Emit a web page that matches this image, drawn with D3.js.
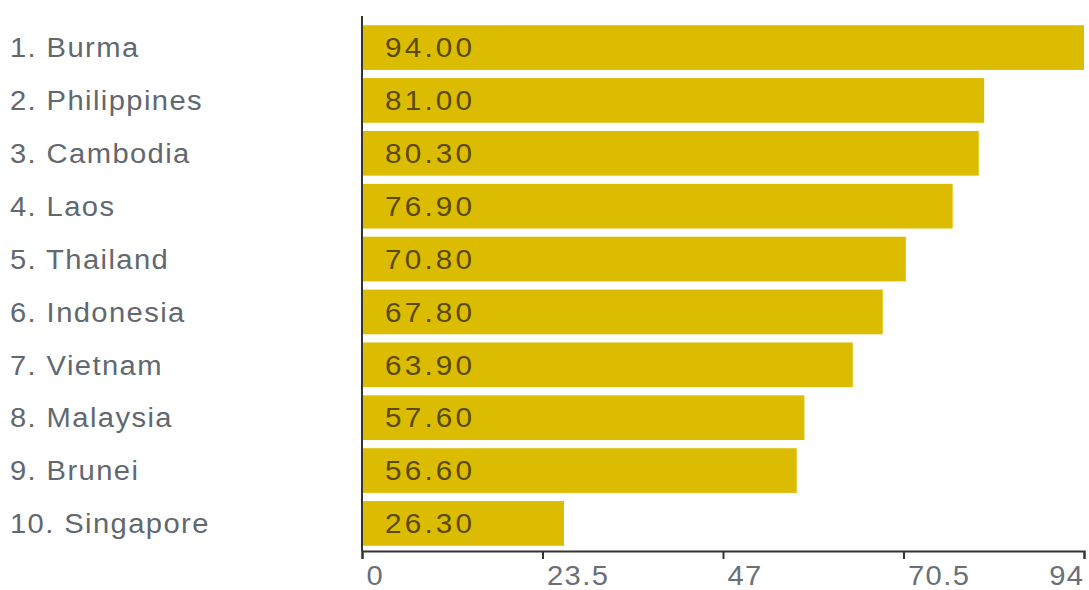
<!DOCTYPE html>
<html>
<head>
<meta charset="utf-8">
<script src="https://cdn.jsdelivr.net/npm/d3@7"></script>
<style>
  html, body { margin: 0; padding: 0; background: #fff; }
  svg { display: block; }
</style>
</head>
<body>
<svg id="chart" width="1089" height="590"></svg>
<script>
const categories = ["1. Burma", "2. Philippines", "3. Cambodia", "4. Laos", "5. Thailand",
                    "6. Indonesia", "7. Vietnam", "8. Malaysia", "9. Brunei", "10. Singapore"];
const values = [94.00, 81.00, 80.30, 76.90, 70.80, 67.80, 63.90, 57.60, 56.60, 26.30];
const tickValues = [0, 23.5, 47, 70.5, 94];
const tickLabels = ["0", "23.5", "47", "70.5", "94"];

const svg = d3.select("#chart");
const font = "'Liberation Sans', Arial, sans-serif";
const stretch = 1.08;   // slightly wide lettering

const x = d3.scaleLinear().domain([0, 94]).range([362, 1084]);
const y = d3.scaleBand().domain(categories)
  .range([21, 550]).paddingInner(0.155).paddingOuter(0.08);

// Bars
svg.append("g").selectAll("rect")
  .data(values)
  .join("rect")
  .attr("x", x(0) + 1)
  .attr("y", (d, i) => y(categories[i]))
  .attr("width", d => x(d) - x(0) - 1)
  .attr("height", y.bandwidth())
  .attr("fill", "#dcbc00");

// Value labels inside bars
svg.append("g").selectAll("g")
  .data(values)
  .join("g")
  .attr("transform", (d, i) =>
    `translate(${x(0) + 23},${y(categories[i]) + y.bandwidth() / 2}) scale(1.1,1)`)
  .append("text")
  .attr("dy", "0.36em")
  .attr("font-family", font)
  .attr("font-size", 27)
  .attr("letter-spacing", "2.9px")
  .attr("fill", "#5a4a08")
  .text(d => d.toFixed(2));

// Category labels
svg.append("g").selectAll("g")
  .data(categories)
  .join("g")
  .attr("transform", d => `translate(10,${y(d) + y.bandwidth() / 2}) scale(${stretch},1)`)
  .append("text")
  .attr("dy", "0.36em")
  .attr("font-family", font)
  .attr("font-size", 27)
  .attr("letter-spacing", "1.3px")
  .attr("fill", "#62686f")
  .text(d => d);

// Vertical axis line
svg.append("line")
  .attr("x1", x(0)).attr("x2", x(0))
  .attr("y1", 16).attr("y2", 551)
  .attr("stroke", "#333").attr("stroke-width", 2);

// Bottom axis
const axis = d3.axisBottom(x)
  .tickValues(tickValues)
  .tickFormat((d, i) => tickLabels[i])
  .tickSizeOuter(0)
  .tickSize(8);

const gx = svg.append("g")
  .attr("transform", "translate(0,551)")
  .call(axis);

gx.select(".domain").attr("stroke", "#333").attr("stroke-width", 2);
gx.selectAll(".tick line").attr("stroke", "#333").attr("stroke-width", 2);
const last = tickValues.length - 1;
gx.selectAll(".tick text")
  .attr("font-family", font)
  .attr("font-size", 27)
  .attr("letter-spacing", "1.3px")
  .attr("fill", "#6a6f78")
  .attr("y", 0)
  .attr("dy", "0.71em")
  .attr("text-anchor", (d, i) => i === last ? "end" : "start")
  .attr("x", (d, i) => i === last ? 0 : 4 / stretch)
  .attr("transform", `translate(0,15) scale(${stretch},1)`);
</script>
</body>
</html>
